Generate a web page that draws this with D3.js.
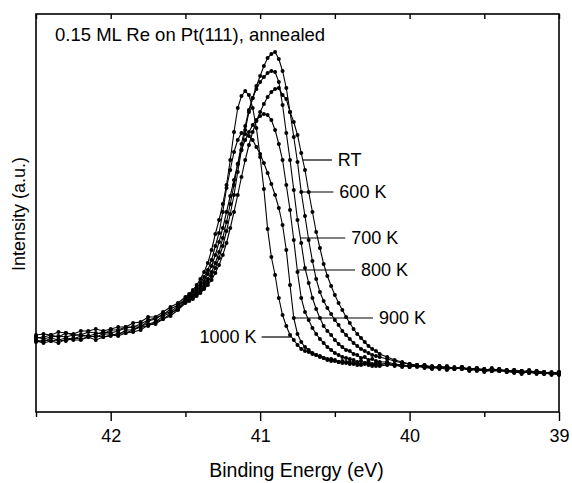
<!DOCTYPE html>
<html>
<head>
<meta charset="utf-8">
<script src="https://cdn.jsdelivr.net/npm/d3@7"></script>
<style>
  body { margin: 0; background: #fff; }
  text { font-family: "Liberation Sans", Arial, Helvetica, sans-serif; fill: #000; }
</style>
</head>
<body>
<div id="main"></div>
<script>
// binding energy (eV), shared by every spectrum
const energies = [
  42.5, 42.45, 42.4, 42.35, 42.3, 42.25, 42.2, 42.15, 42.1, 42.05,
  42.0, 41.95, 41.9, 41.85, 41.8, 41.75, 41.7, 41.65, 41.6, 41.55,
  41.5, 41.475, 41.45, 41.425, 41.4, 41.375, 41.35, 41.325, 41.3, 41.275,
  41.25, 41.225, 41.2, 41.175, 41.15, 41.125, 41.1, 41.075, 41.05, 41.025,
  41.0, 40.975, 40.95, 40.925, 40.9, 40.875, 40.85, 40.825, 40.8, 40.775,
  40.75, 40.725, 40.7, 40.675, 40.65, 40.625, 40.6, 40.575, 40.55, 40.525,
  40.5, 40.475, 40.45, 40.425, 40.4, 40.375, 40.35, 40.325, 40.3, 40.275,
  40.25, 40.225, 40.2,
  40.15, 40.1, 40.05, 40.0, 39.95, 39.9, 39.85, 39.8, 39.75, 39.7,
  39.65, 39.6, 39.55, 39.5, 39.45, 39.4, 39.35, 39.3, 39.25, 39.2,
  39.15, 39.1, 39.05, 39.0
];

// intensities (a.u.)
const intRT = [
  71, 69, 71, 69, 73, 72, 72, 75, 72, 75, 77, 76, 79, 80, 82, 87, 88, 93, 96, 102,
  109, 111, 113, 116, 119, 123, 127, 132, 139, 147, 157, 169, 184, 200, 217, 235, 252, 267, 280, 291,
  300, 308, 315, 320, 323, 324, 317, 313, 300, 290, 277, 259, 242, 220, 200, 180, 164, 148, 136, 126,
  117, 109, 102, 95, 89, 83, 78, 74, 70, 66, 63, 61, 58,
  55, 52, 50, 48, 47, 45, 46, 44, 45, 43, 44, 42, 44, 41, 43, 41, 42, 40, 41, 40, 38, 40, 39, 37
];
const int600 = [
  70, 72, 71, 72, 71, 74, 73, 75, 76, 75, 76, 79, 79, 82, 85, 86, 90, 93, 98, 104,
  110, 112, 115, 118, 121, 125, 130, 136, 144, 154, 166, 181, 198, 217, 240, 262, 282, 300, 314, 326,
  336, 346, 354, 358, 360, 353, 341, 324, 300, 275, 250, 220, 196, 172, 151, 133, 120, 111, 104, 98,
  92, 87, 81, 77, 73, 69, 66, 63, 61, 59, 57, 56, 55,
  53, 51, 49, 48, 46, 47, 45, 44, 46, 43, 45, 43, 42, 43, 41, 43, 40, 42, 41, 39, 41, 40, 38, 40
];
const int700 = [
  72, 70, 74, 72, 74, 73, 76, 76, 75, 78, 78, 77, 82, 82, 86, 88, 90, 96, 99, 103,
  111, 113, 116, 119, 123, 128, 133, 140, 149, 160, 174, 190, 208, 227, 248, 268, 286, 302, 314, 323,
  330, 335, 339, 341, 340, 330, 307, 279, 252, 222, 192, 169, 144, 129, 114, 103, 94, 86, 81, 77,
  72, 68, 65, 62, 61, 58, 57, 54, 55, 52, 53, 51, 50,
  50, 48, 47, 45, 47, 45, 44, 46, 43, 44, 45, 42, 43, 43, 41, 41, 41, 42, 39, 40, 41, 38, 39, 38
];
const int800 = [
  75, 73, 75, 76, 75, 77, 77, 76, 78, 80, 79, 81, 84, 85, 85, 91, 93, 98, 100, 106,
  112, 114, 118, 122, 126, 131, 138, 146, 157, 170, 184, 200, 216, 232, 248, 262, 272, 280, 287, 292,
  296, 298, 297, 292, 282, 268, 252, 227, 202, 172, 140, 114, 100, 92, 84, 78, 73, 69, 65, 62,
  59, 57, 55, 54, 53, 52, 50, 51, 49, 50, 48, 49, 47,
  49, 47, 46, 46, 47, 44, 45, 43, 45, 44, 43, 44, 41, 42, 41, 42, 42, 40, 40, 42, 39, 38, 39, 40
];
const int900 = [
  74, 75, 77, 75, 79, 77, 77, 80, 79, 78, 82, 82, 85, 85, 88, 92, 94, 97, 103, 107,
  113, 116, 120, 124, 129, 135, 142, 152, 166, 179, 200, 224, 242, 260, 272, 279, 278, 276, 272, 265,
  258, 249, 239, 228, 217, 204, 187, 162, 127, 94, 78, 70, 65, 62, 59, 57, 56, 54, 52, 53,
  51, 50, 51, 49, 50, 48, 49, 47, 48, 49, 47, 46, 48,
  48, 46, 48, 45, 46, 47, 44, 45, 42, 45, 43, 43, 44, 40, 42, 43, 40, 41, 38, 41, 39, 39, 40, 38
];
const int1000 = [
  77, 78, 77, 80, 79, 78, 81, 81, 83, 81, 83, 85, 85, 89, 90, 95, 95, 100, 105, 109,
  115, 118, 122, 127, 133, 140, 149, 162, 178, 192, 208, 227, 252, 280, 304, 316, 321, 317, 304, 284,
  255, 223, 183, 155, 137, 114, 97, 86, 77, 72, 67, 63, 61, 60, 58, 57, 55, 54, 53, 51,
  52, 50, 49, 50, 48, 49, 47, 48, 49, 47, 46, 48, 46,
  47, 47, 45, 47, 45, 45, 43, 46, 44, 43, 45, 41, 43, 41, 44, 41, 41, 39, 41, 39, 40, 40, 37, 39
];

const seriesNames = ['RT', '600 K', '700 K', '800 K', '900 K', '1000 K'];
const seriesValues = [intRT, int600, int700, int800, int900, int1000];

const majorTicks = [42, 41, 40, 39];
const minorTicks = [42.5, 41.5, 40.5, 39.5];

const titleText = '0.15 ML Re on Pt(111), annealed';
const xTitle = 'Binding Energy (eV)';
const yTitle = 'Intensity (a.u.)';

class Spectra {
  constructor(config) {
    this.config = config;
    this.svg = null;
    this.margins = null;
    this.xScale = null;
    this.yScale = null;

    this.createSvg();
    this.createMargins();
  }

  createSvg() {
    this.svg = d3.select(this.config.div)
      .append('svg')
      .attr('width', this.config.width + this.config.left + this.config.right)
      .attr('height', this.config.height + this.config.top + this.config.bottom);
  }

  createMargins() {
    this.margins = this.svg
      .append('g')
      .attr('transform', `translate(${this.config.left},${this.config.top})`);
  }

  createScales() {
    this.xScale = d3.scaleLinear().domain([42.5, 39]).range([0, this.config.width]);
    this.yScale = d3.scaleLinear().domain([0, 398]).range([this.config.height, 0]);
  }

  createAxis() {
    let h = this.config.height;

    // bottom: labelled integer ticks, short half-eV ticks, all pointing out
    let xMajor = d3.axisBottom(this.xScale).tickValues(majorTicks).tickSize(9).tickPadding(8)
      .tickFormat(d3.format('d'));
    let xMinor = d3.axisBottom(this.xScale).tickValues(minorTicks).tickSize(5).tickFormat('');
    // top: every half eV, pointing in
    let xTop = d3.axisBottom(this.xScale).tickValues(majorTicks.concat(minorTicks)).tickSize(5).tickFormat('');

    let gMaj = this.margins.append('g').attr('transform', `translate(0,${h})`).call(xMajor);
    let gMin = this.margins.append('g').attr('transform', `translate(0,${h})`).call(xMinor);
    let gTop = this.margins.append('g').call(xTop);

    [gMaj, gMin, gTop].forEach(g => {
      g.select('.domain').remove();
      g.selectAll('line').attr('stroke', '#000').attr('stroke-width', 1.4);
    });
    gMaj.selectAll('text')
      .style('font-size', '18px')
      .style('font-family', '"Liberation Sans", Arial, sans-serif')
      .attr('fill', '#000');

    this.margins.append('rect')
      .attr('x', 0).attr('y', 0)
      .attr('width', this.config.width).attr('height', h)
      .attr('fill', 'none')
      .attr('stroke', '#000')
      .attr('stroke-width', 1.6);
  }

  createCurves() {
    let line = d3.line()
      .x(d => this.xScale(d[0]))
      .y(d => this.yScale(d[1]));

    let groups = this.margins.append('g')
      .selectAll('g')
      .data(seriesValues.map(v => energies.map((e, i) => [e, v[i]])))
      .join('g');

    groups.append('path')
      .attr('d', d => line(d))
      .attr('fill', 'none')
      .attr('stroke', '#000')
      .attr('stroke-width', 1.1);

    groups.selectAll('circle')
      .data(d => d)
      .join('circle')
      .attr('cx', d => this.xScale(d[0]))
      .attr('cy', d => this.yScale(d[1]))
      .attr('r', 2)
      .attr('fill', '#000');
  }

  // energy where a spectrum drops through a level on its low-BE side
  crossing(vals, level) {
    let peak = d3.maxIndex(vals);
    for (let i = peak; i < vals.length - 1; i++) {
      if (vals[i] >= level && vals[i + 1] < level) {
        let t = (vals[i] - level) / (vals[i] - vals[i + 1]);
        return energies[i] + t * (energies[i + 1] - energies[i]);
      }
    }
    return energies[peak];
  }

  createLabels(placement) {
    placement.forEach((p, k) => {
      let y = this.yScale(p.level);
      let xc = this.xScale(this.crossing(seriesValues[k], p.level));
      let xe = this.xScale(p.end);
      this.margins.append('line')
        .attr('x1', xc).attr('x2', xe)
        .attr('y1', y).attr('y2', y)
        .attr('stroke', '#000')
        .attr('stroke-width', 1.2);
      this.margins.append('text')
        .attr('x', p.left ? xe - 5 : xe + 6)
        .attr('y', y)
        .attr('dy', '0.35em')
        .attr('text-anchor', p.left ? 'end' : 'start')
        .style('font-size', '18px')
        .text(seriesNames[k]);
    });
  }

  createTitles() {
    this.svg.append('text')
      .attr('x', 55).attr('y', 41)
      .style('font-size', '18.5px')
      .text(titleText);

    this.svg.append('text')
      .attr('x', this.config.left + this.config.width / 2 - 1)
      .attr('y', 477)
      .attr('text-anchor', 'middle')
      .style('font-size', '19.5px')
      .text(xTitle);

    this.svg.append('text')
      .attr('transform', `translate(25,${this.config.top + this.config.height / 2 + 1}) rotate(-90)`)
      .attr('text-anchor', 'middle')
      .style('font-size', '18px')
      .text(yTitle);
  }
}

function main() {
  let c = {div: '#main', width: 523, height: 398, top: 14, left: 36, bottom: 71, right: 13};
  let a = new Spectra(c);

  // leader level (intensity) and where the leader stops (eV)
  let placement = [
    {level: 252, end: 40.52},
    {level: 220, end: 40.51},
    {level: 174, end: 40.43},
    {level: 142, end: 40.365},
    {level: 94, end: 40.245},
    {level: 75, end: 40.99, left: true}
  ];

  a.createScales();
  a.createCurves();
  a.createAxis();
  a.createLabels(placement);
  a.createTitles();
}

main();
</script>
</body>
</html>
